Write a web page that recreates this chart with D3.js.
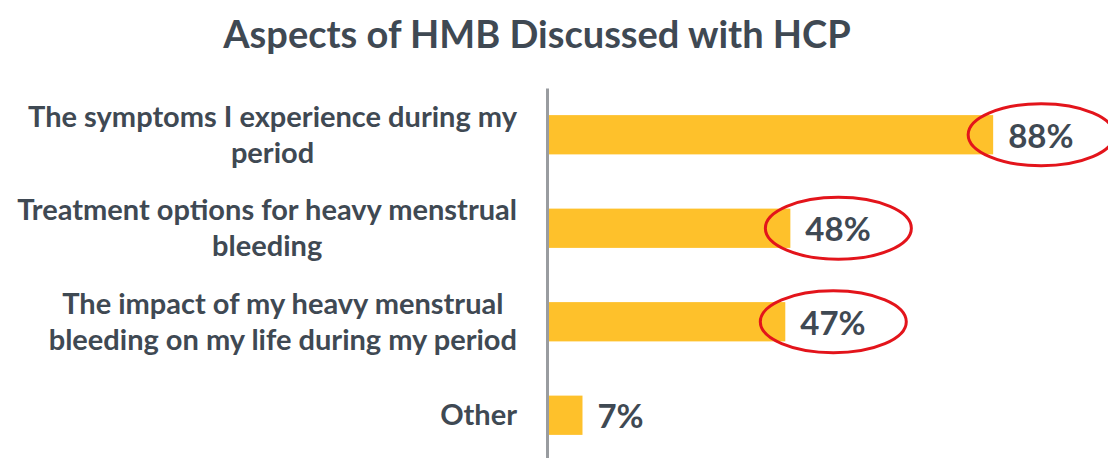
<!DOCTYPE html>
<html>
<head>
<meta charset="utf-8">
<script src="https://cdn.jsdelivr.net/npm/d3@7"></script>
<style>
  body { margin: 0; background: #fff; }
  svg { display: block; }
</style>
</head>
<body>
<svg id="barChart"></svg>
<script>
// chart data
var categories = [
    "The symptoms I experience during my|period",
    "Treatment options for heavy menstrual|bleeding",
    "The impact of my heavy menstrual|bleeding on my life during my period",
    "Other"
];
var percents = [88, 48, 47, 7];
var circled = [true, true, true, false];
var titleText = "Aspects of HMB Discussed with HCP";

function drawBars() {
    let width = 1108, height = 458;
    var axisX = 547, labelRight = 517;
    var textColor = "#3f4953", barColor = "#fec12b";
    var fontFam = "Lato, 'Open Sans', sans-serif";

    var svg = d3.select("#barChart")
        .attr("width", width)
        .attr("height", height);

    svg.append("text")
        .attr("x", 537)
        .attr("y", 48)
        .attr("text-anchor", "middle")
        .style("font-family", fontFam)
        .style("font-weight", "bold")
        .style("font-size", "38px")
        .style("fill", textColor)
        .text(titleText);

    var yScale = d3.scaleBand()
        .domain(categories)
        .range([88, 462])
        .paddingInner(0.58)
        .paddingOuter(0.29);
    var xScale = d3.scaleLinear()
        .domain([0, 100])
        .range([axisX, axisX + 507]);

    var rows = categories.map((c, i) => ({ cat: c, value: percents[i], circled: circled[i] }));

    // bars
    svg.selectAll("rect.bar")
        .data(rows)
        .enter()
        .append("rect")
        .attr("class", "bar")
        .attr("x", xScale(0))
        .attr("y", d => yScale(d.cat))
        .attr("width", d => xScale(d.value) - xScale(0))
        .attr("height", yScale.bandwidth())
        .style("fill", barColor);

    // axis line
    var axis = svg.append("g")
        .attr("transform", "translate(" + axisX + ",0)")
        .call(d3.axisLeft(yScale).tickSize(0).tickSizeOuter(0).tickFormat(""));
    axis.select(".domain")
        .style("stroke", "#999ca0")
        .style("stroke-width", 3);

    // category labels, lines centred on the widest one
    rows.forEach(d => {
        var lines = d.cat.split("|");
        var cy = yScale(d.cat) + yScale.bandwidth() / 2;
        var g = svg.append("g");
        var texts = lines.map((ln, k) => g.append("text")
            .attr("y", cy - (lines.length - 1) * 18 + 10 + k * 36)
            .attr("text-anchor", "middle")
            .style("font-family", fontFam)
            .style("font-weight", "bold")
            .style("font-size", "29px")
            .style("fill", textColor)
            .text(ln));
        var maxW = d3.max(texts, t => t.node().getComputedTextLength());
        texts.forEach(t => t.attr("x", labelRight - maxW / 2));
    });

    // value labels
    svg.selectAll("text.val")
        .data(rows)
        .enter()
        .append("text")
        .attr("class", "val")
        .attr("x", d => xScale(d.value) + 15)
        .attr("y", d => yScale(d.cat) + yScale.bandwidth() / 2 + 13)
        .style("font-family", fontFam)
        .style("font-weight", "bold")
        .style("font-size", "33px")
        .style("fill", textColor)
        .text(d => d.value + "%");

    // red highlight rings
    svg.selectAll("ellipse.ring")
        .data(rows.filter(d => d.circled))
        .enter()
        .append("ellipse")
        .attr("class", "ring")
        .attr("cx", d => xScale(d.value) + 48)
        .attr("cy", d => yScale(d.cat) + yScale.bandwidth() / 2)
        .attr("rx", 73)
        .attr("ry", 31)
        .style("fill", "none")
        .style("stroke", "#e3141b")
        .style("stroke-width", 3);
}
drawBars();
</script>
</body>
</html>
